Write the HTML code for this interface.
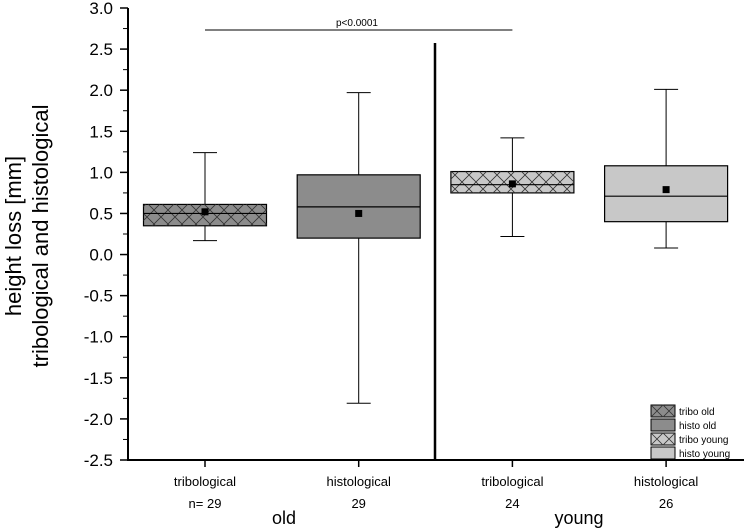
<!DOCTYPE html>
<html><head><meta charset="utf-8"><style>
body{margin:0;background:#fff;}
svg{display:block;font-family:"Liberation Sans",sans-serif;}
</style></head><body>
<svg id="c" width="744" height="528"></svg>
<script>
const categories=["tribological","histological","tribological","histological"];
const counts=["n= 29","29","24","26"];
const groups=["old","young"];
const whiskerLow=[0.17,-1.81,0.22,0.08];
const whiskerHigh=[1.24,1.97,1.42,2.01];
const q1=[0.35,0.20,0.75,0.40];
const q3=[0.61,0.97,1.01,1.08];
const medians=[0.50,0.58,0.85,0.71];
const means=[0.52,0.50,0.86,0.79];
const yTicks=[3.0,2.5,2.0,1.5,1.0,0.5,0.0,-0.5,-1.0,-1.5,-2.0,-2.5];
const legendLabels=["tribo old","histo old","tribo young","histo young"];
const NS="http://www.w3.org/2000/svg";
const svg=document.getElementById('c');
function mk(t,a,p){const e=document.createElementNS(NS,t);for(const k in a)e.setAttribute(k,a[k]);(p||svg).appendChild(e);return e;}
const y=v=>8+(3-v)*(452/5.5);
const xc=i=>205+i*153.7;
const fills=["#8c8c8c","#8c8c8c","#c8c8c8","#c8c8c8"];
const hatch=[true,false,true,false];
const defs=mk('defs',{});
const pat=mk('pattern',{id:'h',width:14,height:14,patternUnits:'userSpaceOnUse'},defs);
mk('path',{d:'M0,0L14,14M14,0L0,14',stroke:'#333','stroke-width':0.8},pat);
let e=mk('line',{x1:128,y1:8,x2:128,y2:460,stroke:'#000','stroke-width':2});

e=mk('line',{x1:127,y1:460,x2:744,y2:460,stroke:'#000','stroke-width':2});

yTicks.forEach(v=>{
 mk('line',{x1:120,y1:y(v),x2:128,y2:y(v),stroke:'#000','stroke-width':1.5});
 if(v>-2.5)mk('line',{x1:123,y1:y(v-0.25),x2:128,y2:y(v-0.25),stroke:'#000','stroke-width':1});
 const t=mk('text',{x:113,y:y(v)+6,'text-anchor':'end','font-size':17});
 t.textContent=v.toFixed(1);
 
});
const yl=mk('text',{transform:'translate(21,236) rotate(-90)','text-anchor':'middle','font-size':22});

mk('tspan',{x:0,dy:0},yl).textContent='height loss [mm]';
mk('tspan',{x:0,dy:27},yl).textContent='tribological and histological';
e=mk('line',{x1:435,y1:43,x2:435,y2:460,stroke:'#000','stroke-width':2.5});

categories.forEach((c,i)=>{
 const x=xc(i),w=123;
 const g=mk('g',{});
 
 mk('line',{x1:x,y1:y(whiskerHigh[i]),x2:x,y2:y(q3[i]),stroke:'#000'},g);
 mk('line',{x1:x,y1:y(whiskerLow[i]),x2:x,y2:y(q1[i]),stroke:'#000'},g);
 mk('line',{x1:x-12,y1:y(whiskerHigh[i]),x2:x+12,y2:y(whiskerHigh[i]),stroke:'#000'},g);
 mk('line',{x1:x-12,y1:y(whiskerLow[i]),x2:x+12,y2:y(whiskerLow[i]),stroke:'#000'},g);
 mk('rect',{x:x-w/2,y:y(q3[i]),width:w,height:y(q1[i])-y(q3[i]),fill:fills[i],stroke:'#000','stroke-width':1.2},g);
 if(hatch[i])mk('rect',{x:x-w/2,y:y(q3[i]),width:w,height:y(q1[i])-y(q3[i]),fill:'url(#h)'},g);
 mk('line',{x1:x-w/2,y1:y(medians[i]),x2:x+w/2,y2:y(medians[i]),stroke:'#000','stroke-width':1.2},g);
 mk('rect',{x:x-3.5,y:y(means[i])-3.5,width:7,height:7,fill:'#000'},g);
 mk('line',{x1:x,y1:460,x2:x,y2:467,stroke:'#000','stroke-width':1.5});
 let t=mk('text',{x:x,y:486,'text-anchor':'middle','font-size':13});t.textContent=c;
 
 t=mk('text',{x:x,y:508,'text-anchor':'middle','font-size':13});t.textContent=counts[i];
 
});
groups.forEach((gname,j)=>{
 const t=mk('text',{x:j?579:284,y:524,'text-anchor':'middle','font-size':18});t.textContent=gname;
 
});
e=mk('line',{x1:xc(0),y1:30,x2:xc(2),y2:30,stroke:'#000'});

e=mk('text',{x:357,y:26,'text-anchor':'middle','font-size':10});e.textContent='p<0.0001';

legendLabels.forEach((l,i)=>{
 const g=mk('g',{});
 
 const yy=405+i*14;
 mk('rect',{x:651,y:yy,width:24,height:12,fill:fills[i],stroke:'#000'},g);
 if(hatch[i])mk('path',{d:`M651,${yy}L663,${yy+12}L675,${yy}M651,${yy+12}L663,${yy}L675,${yy+12}`,stroke:'#333','stroke-width':0.8,fill:'none'},g);
 const t=mk('text',{x:679,y:yy+10,'font-size':10},g);t.textContent=l;
});
</script>
</body></html>
